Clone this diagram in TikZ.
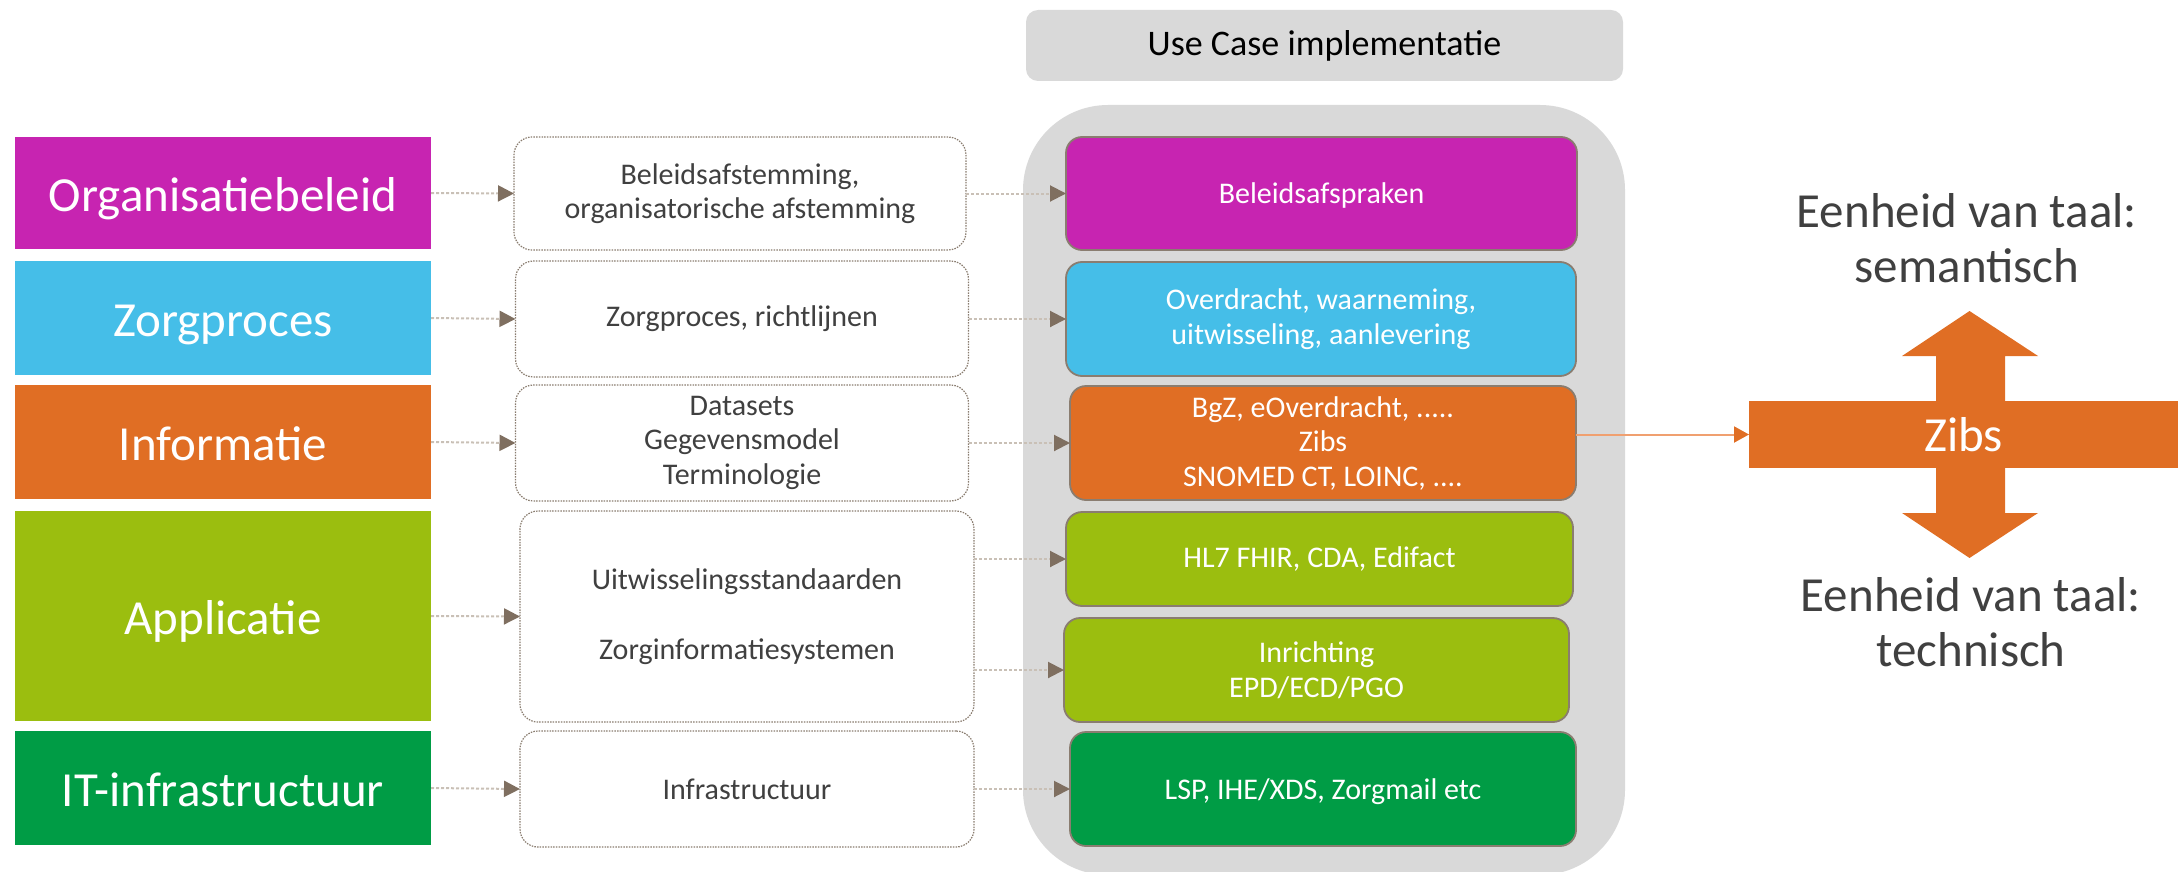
\documentclass[tikz,border=0pt]{standalone}
\usepackage{fontspec}
\setmainfont{Carlito}
\usetikzlibrary{arrows.meta}
\definecolor{cMag}{HTML}{C724B1}
\definecolor{cBlue}{HTML}{45BEE8}
\definecolor{cOra}{HTML}{E06E24}
\definecolor{cLime}{HTML}{9BBE0F}
\definecolor{cGreen}{HTML}{009C45}
\definecolor{cGray}{HTML}{D9D9D9}
\definecolor{cText}{HTML}{404040}
\definecolor{cHead}{HTML}{7F6F60}
\definecolor{cDot}{HTML}{C9C0B6}
\definecolor{cEdge}{HTML}{8A7D70}
\definecolor{cOraLine}{HTML}{F0A070}
\tikzset{
  leftbox/.style={draw=none, minimum width=416pt, text=white, outer sep=0pt, inner sep=0pt,
    text height=36pt, text depth=0pt, font=\fontsize{49}{58}\selectfont},
  midbox/.style={draw=cEdge, line width=1.2pt, dash pattern=on 1.5pt off 1.2pt, rounded corners=18pt,
    fill=white, text=cText, align=center, outer sep=0pt, inner sep=0pt,
    font=\fontsize{30}{34.5}\selectfont},
  rightbox/.style={draw=cEdge, line width=1.8pt, rounded corners=16pt, text=white, align=center,
    outer sep=0pt, inner sep=0pt, font=\fontsize{30}{34.5}\selectfont},
  conn/.style={draw=cDot, line width=2pt, dash pattern=on 3pt off 2pt,
    -{Triangle[length=16pt,width=16pt,fill=cHead,color=cHead]}},
  bigtext/.style={text=cText, align=center, font=\fontsize{49}{55}\selectfont},
}
\begin{document}
\begin{tikzpicture}[x=1pt,y=-1pt]
\useasboundingbox (0,0) rectangle (2178,872);
% container and header
\fill[cGray, rounded corners=85pt] (1023,105) rectangle (1625,875);
\node[fill=cGray, rounded corners=12pt, minimum width=597pt, minimum height=71pt, inner sep=0pt,
  font=\fontsize{36}{43}\selectfont, text=black] (head) at (1324.5,45.5) {Use Case implementatie};
% left column
\node[leftbox, fill=cMag, minimum height=112pt] (L1) at (223,193) {Organisatiebeleid};
\node[leftbox, fill=cBlue, minimum height=114pt] (L2) at (223,318) {Zorgproces};
\node[leftbox, fill=cOra, minimum height=114pt] (L3) at (223,442) {Informatie};
\node[leftbox, fill=cLime, minimum height=210pt] (L4) at (223,616) {Applicatie};
\node[leftbox, fill=cGreen, minimum height=114pt] (L5) at (223,788) {IT-infrastructuur};
% middle column
\node[midbox, minimum width=452pt, minimum height=113pt] (M1) at (740,193.5) {Beleidsafstemming,\\organisatorische afstemming};
\node[midbox, minimum width=453pt, minimum height=116pt] (M2) at (742,319) {Zorgproces, richtlijnen};
\node[midbox, minimum width=453pt, minimum height=116pt, text depth=6pt] (M3) at (742,443) {Datasets\\Gegevensmodel\\Terminologie};
\node[midbox, minimum width=454pt, minimum height=211pt] (M4) at (747,616.5) {Uitwisselingsstandaarden\\[35pt]Zorginformatiesystemen};
\node[midbox, minimum width=454pt, minimum height=116pt] (M5) at (747,789) {Infrastructuur};
% right column
\node[rightbox, fill=cMag, minimum width=511pt, minimum height=113pt, text depth=0pt] (R1) at (1321.5,193.5) {Beleidsafspraken};
\node[rightbox, fill=cBlue, minimum width=510pt, minimum height=114pt] (R2) at (1321,319) {Overdracht, waarneming,\\uitwisseling, aanlevering};
\node[rightbox, fill=cOra, minimum width=506pt, minimum height=114pt] (R3) at (1323,443) {BgZ, eOverdracht, .....\\Zibs\\SNOMED CT, LOINC, ....};
\node[rightbox, fill=cLime, minimum width=507pt, minimum height=94pt] (R4) at (1319.5,559) {HL7 FHIR, CDA, Edifact};
\node[rightbox, fill=cLime, minimum width=505pt, minimum height=104pt] (R5) at (1316.5,670) {Inrichting\\EPD/ECD/PGO};
\node[rightbox, fill=cGreen, minimum width=506pt, minimum height=114pt, text depth=0pt] (R6) at (1323,789) {LSP, IHE/XDS, Zorgmail etc};
% connectors left -> middle
\draw[conn] (L1.east) -- (M1.west);
\draw[conn] (L2.east) -- (M2.west);
\draw[conn] (L3.east) -- (M3.west);
\draw[conn] (L4.east) -- (M4.west);
\draw[conn] (L5.east) -- (M5.west);
% connectors middle -> right
\draw[conn] (M1.east) -- (R1.west);
\draw[conn] (M2.east) -- (R2.west);
\draw[conn] (M3.east) -- (R3.west);
\draw[conn] (M4.east |- R4.west) -- (R4.west);
\draw[conn] (M4.east |- R5.west) -- (R5.west);
\draw[conn] (M5.east) -- (R6.west);
% Zibs cross
\fill[cOra] (1969.5,311) -- (2038,356) -- (2005,356) -- (2005,513) -- (2038,513) -- (1969.5,558)
  -- (1902,513) -- (1936,513) -- (1936,356) -- (1902,356) -- cycle;
\node[fill=cOra, minimum width=429pt, minimum height=67pt, inner sep=0pt, outer sep=0pt, text=white,
  font=\fontsize{49}{58}\selectfont] (zibs) at (1963.5,434.5) {Zibs};
\draw[cOraLine, line width=2pt, -{Triangle[length=15pt,width=16pt,fill=cOra,color=cOra]}] (R3.east |- zibs.west) -- (zibs.west);
% texts
\node[bigtext] (sem) at (1967,238.5) {Eenheid van taal:\\semantisch};
\node[bigtext] (tech) at (1971,622.5) {Eenheid van taal:\\technisch};
\end{tikzpicture}
\end{document}
